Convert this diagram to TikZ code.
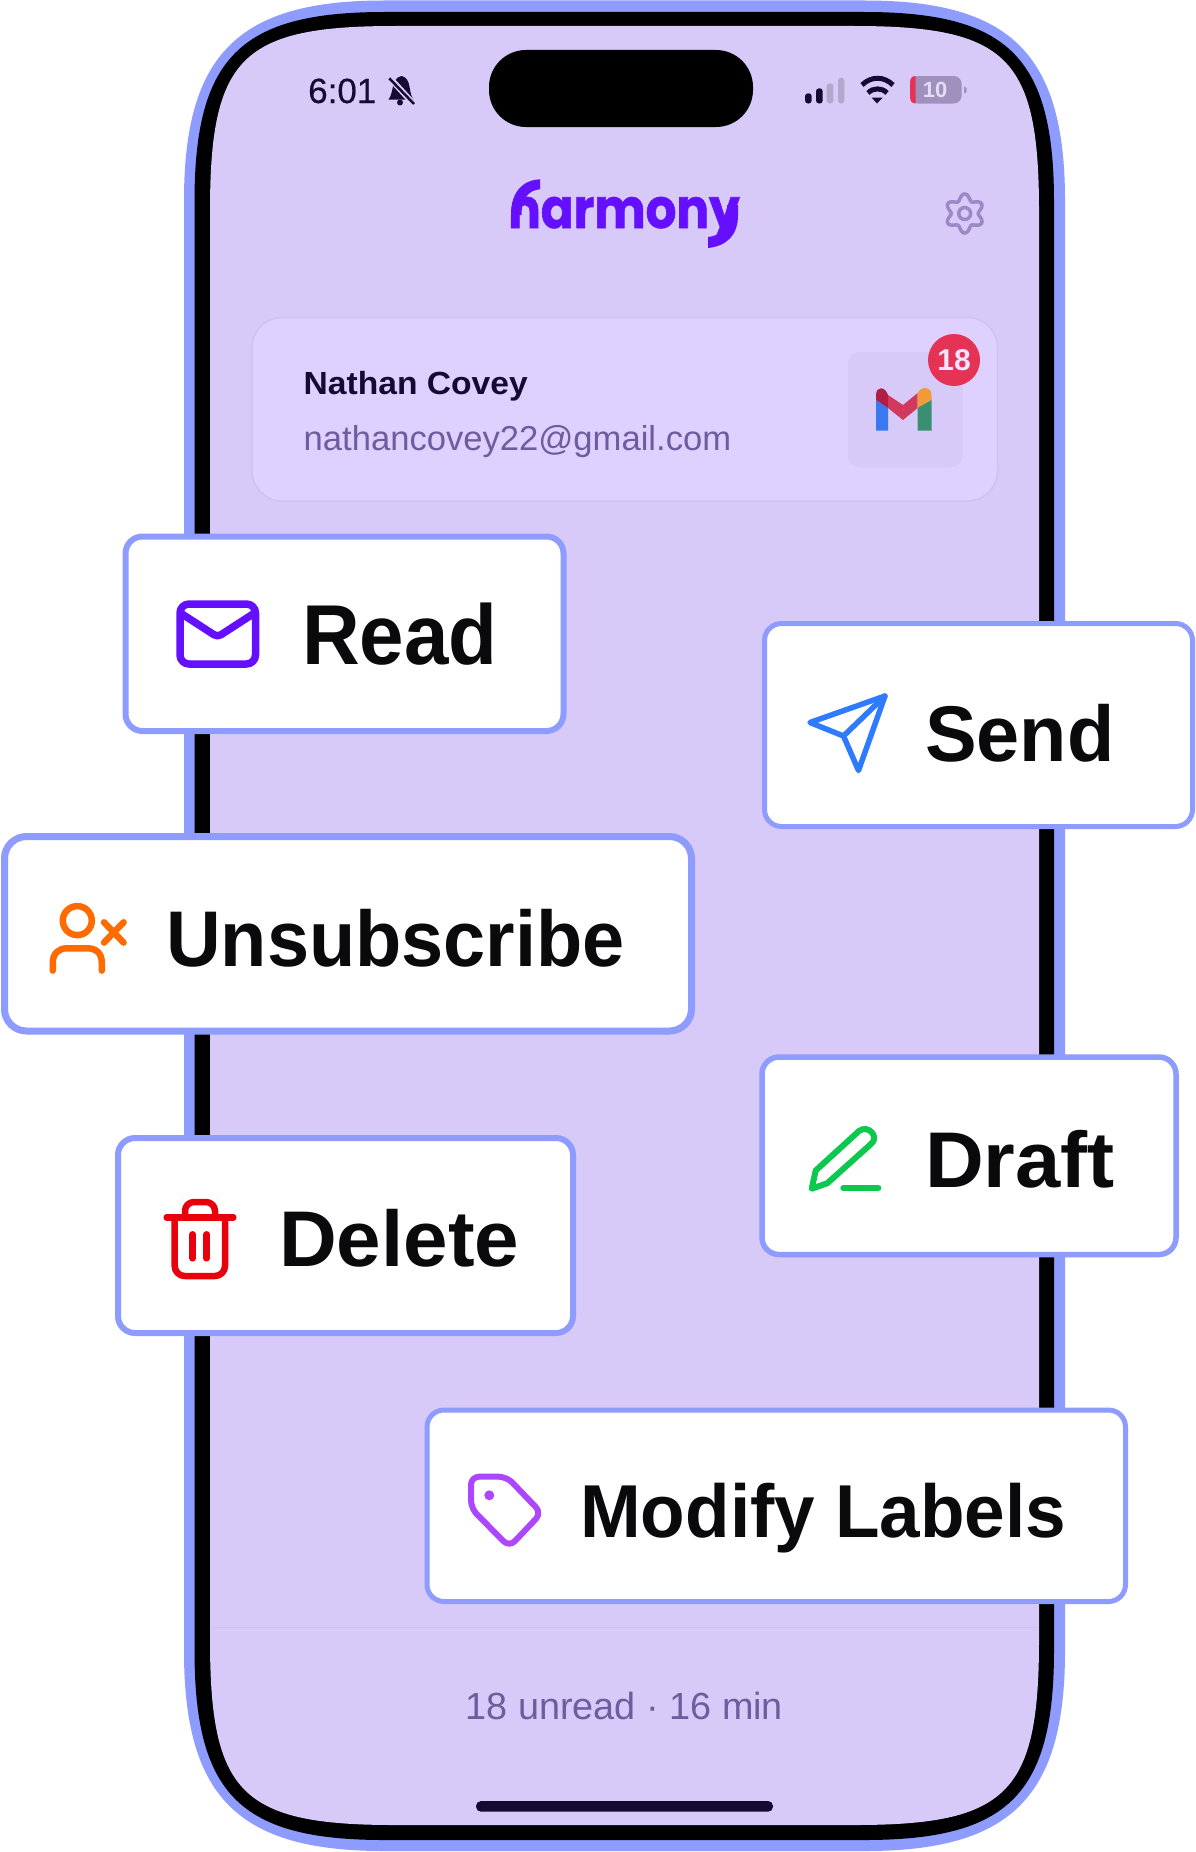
\documentclass[tikz,border=0pt]{standalone}
\usepackage{fontspec}
\setmainfont{Liberation Sans}
\newfontfamily\logofont[BoldFeatures={FakeBold=1.2}]{Poppins}
\newfontfamily\statusfont[FakeBold=0.5]{Liberation Sans}
\definecolor{phoneblue}{HTML}{8E9BFF}
\definecolor{screenlilac}{HTML}{D8CAF8}
\definecolor{panellilac}{HTML}{DED0FF}
\definecolor{panelline}{HTML}{D0C1F0}
\definecolor{ink}{HTML}{0A0A0C}
\definecolor{statusink}{HTML}{160A33}
\definecolor{mutedpurple}{HTML}{6D5C9E}
\definecolor{faintpurple}{HTML}{B3A7CC}
\definecolor{batterygrey}{HTML}{9F90BE}
\definecolor{batterytext}{HTML}{E4DCF5}
\definecolor{logopurple}{HTML}{6410FF}
\definecolor{gearpurple}{HTML}{9C88C4}
\definecolor{badgered}{HTML}{E43355}
\definecolor{badgetext}{HTML}{F0E4FF}
\definecolor{mailblue}{HTML}{3A78F2}
\definecolor{maildark}{HTML}{B01E48}
\definecolor{mailred}{HTML}{D13A5C}
\definecolor{mailorange}{HTML}{F09B3A}
\definecolor{mailgreen}{HTML}{3A8F70}
\definecolor{sendblue}{HTML}{2F7BFF}
\definecolor{unsuborange}{HTML}{FF6B00}
\definecolor{draftgreen}{HTML}{0CC84E}
\definecolor{deletered}{HTML}{E8000D}
\definecolor{tagviolet}{HTML}{AC46FF}
\newcommand{\squircle}[6]{(#1,#2+#5) .. controls (#1,#2+#6*#5) and (#1+#6*#5,#2) .. (#1+#5,#2) -- (#3-#5,#2) .. controls (#3-#6*#5,#2) and (#3,#2+#6*#5) .. (#3,#2+#5) -- (#3,#4-#5) .. controls (#3,#4-#6*#5) and (#3-#6*#5,#4) .. (#3-#5,#4) -- (#1+#5,#4) .. controls (#1+#6*#5,#4) and (#1,#4-#6*#5) .. (#1,#4-#5) -- cycle}
\begin{document}
\begin{tikzpicture}[x=1pt,y=-1pt,
        cardbox/.style={draw=phoneblue,fill=white,line width=6,rounded corners=17},
        cardlabel/.style={anchor=base west,inner sep=0,text=ink,font=\fontsize{79}{90}\selectfont\bfseries},
        smalllabel/.style={anchor=base west,inner sep=0},
        iconline/.style={line width=6.5,line cap=round,line join=round}]
        \path[use as bounding box,fill=white] (0,0) rectangle (1195,1852);

        \fill[phoneblue] \squircle{184}{0.5}{1065}{1851}{200}{0.27};
        \fill[black] \squircle{194.5}{12}{1054}{1840}{190}{0.24};
        \fill[screenlilac] \squircle{210}{26}{1039}{1825}{185}{0.17};
        \fill[black,rounded corners=37] (489,50) rectangle (753,127);

        \node[smalllabel,text=statusink,font=\fontsize{35}{40}\statusfont\selectfont] (clock) at (308,103) {6:01};
        \fill[statusink] (388.5,99.5) .. controls (394,93) and (391,78) .. (401.5,76) .. controls (412,78) and (408,93) .. (413.5,99.5) -- cycle;
        \fill[statusink] (400,102.5) circle (3);
        \draw[screenlilac,line width=6] (388,76) -- (415.5,106);
        \draw[statusink,line width=2.5] (389.3,78.3) -- (414,104);

        \fill[statusink,rounded corners=3] (805,93.3) rectangle (811.7,103.5);
        \fill[statusink,rounded corners=3] (816,88.3) rectangle (822.7,103.5);
        \fill[faintpurple,rounded corners=3] (826.7,83.3) rectangle (833.3,103.5);
        \fill[faintpurple,rounded corners=3] (838,77.7) rectangle (844.3,103.5);
        \draw[statusink,line width=5] (862,85) .. controls (871,76) and (884,76) .. (893,85);
        \draw[statusink,line width=5] (868,93) .. controls (873,87.5) and (882,87.5) .. (887,93);
        \fill[statusink] (871.7,97.7) -- (882.7,97.7) -- (877,103.5) -- cycle;
        \fill[batterygrey,rounded corners=8] (910,76) rectangle (961.7,103.5);
        \fill[badgered] (915.7,76) -- (915.7,103.5) .. controls (912,103.5) and (910,101) .. (910,97) -- (910,83) .. controls (910,78) and (912,76) .. (915.7,76);
        \fill[batterygrey] (964,86.5) -- (966.7,88) -- (966.7,92) -- (964,93.5) -- cycle;
        \node[text=batterytext,font=\fontsize{22}{26}\selectfont\bfseries,inner sep=0] (batterylevel) at (935,90) {10};

        \node[smalllabel,text=logopurple,xscale=.88,font=\fontsize{55}{60}\logofont\bfseries\selectfont] (logo) at (508,228) {harmony};
        \fill[screenlilac] (503,172) -- (540,172) -- (540,179.3) .. controls (522,180) and (511,193) .. (511,215) -- (503,215) -- cycle;
        \fill[logopurple] (511,215) .. controls (511,193) and (522,180) .. (540,179.3) -- (540,189.3) .. controls (529,190) and (521.5,198) .. (521.5,215) -- cycle;
        \fill[logopurple] (727,205) -- (738,205) -- (738,215) .. controls (738,235) and (727,246) .. (708,248) -- (708,237) .. controls (720,236) and (727,228) .. (727,215) -- cycle;
        \draw[gearpurple,line width=3.5,shift={(964.7,213.5)}] plot[domain=0:360,samples=145,smooth] (\x:{16.5-3*cos(6*\x)}) -- cycle;
        \draw[gearpurple,line width=3.5] (964.7,213.5) circle (6);

        \draw[draw=panelline,fill=panellilac,line width=1.5,rounded corners=30] (252,317.5) rectangle (997.5,501);
        \node[smalllabel,text=statusink,xscale=1.05,font=\fontsize{32}{38}\selectfont\bfseries] (username) at (303.5,394.5) {Nathan Covey};
        \node[smalllabel,text=mutedpurple,font=\fontsize{34.6}{40}\selectfont] (useremail) at (303.5,450) {nathancovey22@gmail.com};
        \fill[screenlilac,rounded corners=12] (848,352) rectangle (962.5,467.5);

        \fill[mailblue] (876,400) -- (888,408) -- (888,430.7) -- (876,430.7) -- cycle;
        \fill[maildark] (876,400) -- (876,395) .. controls (876,386) and (885,386) .. (888,395) -- (888,408) -- cycle;
        \fill[mailred] (888,395) -- (903,405) -- (917.6,393) -- (917.6,408) -- (903,420) -- (888,408) -- cycle;
        \fill[mailorange] (917.6,393) .. controls (921,386) and (931.5,386) .. (931.5,395) -- (931.5,400) -- (917.6,408) -- cycle;
        \fill[mailgreen] (931.5,400) -- (931.5,430.7) -- (917.6,430.7) -- (917.6,408) -- cycle;
        \node[circle,fill=badgered,minimum size=52,inner sep=0,text=badgetext,font=\fontsize{30}{34}\selectfont\bfseries] (unreadbadge) at (954,360) {18};

        \draw[panelline,line width=1.5] (210,1627.7) -- (1039,1627.7);
        \node[smalllabel,text=mutedpurple,font=\fontsize{37.8}{44}\selectfont] (footer) at (465.5,1719.3) {18 unread · 16 min};
        \fill[statusink,rounded corners=5] (476,1801) rectangle (773,1811.7);

        \draw[cardbox] (125.5,536.5) rectangle (563.5,731);
        \draw[iconline,line width=7.5,draw=logopurple,rounded corners=9] (180,604) rectangle (255.5,664);
        \draw[iconline,line width=7.5,draw=logopurple,rounded corners=4] (182,614) -- (217.5,637) -- (253,614);
        \node[cardlabel,xscale=.94,font=\fontsize{85}{90}\selectfont\bfseries] (read) at (302,664) {Read};

        \draw[cardbox,line width=5] (764.5,623.5) rectangle (1192.5,826.5);
        \draw[iconline,line width=5.5,draw=sendblue] (885,696) -- (810,722.5) -- (843.5,736) -- (858.5,770.5) -- cycle;
        \draw[iconline,line width=5.5,draw=sendblue] (885,696) -- (843.5,736);
        \node[cardlabel,xscale=.98] (send) at (925,761.5) {Send};

        \draw[cardbox,line width=7,rounded corners=22] (4.5,836.5) rectangle (691.5,1031);
        \draw[iconline,draw=unsuborange] (77.3,920.6) circle (14.5);
        \draw[iconline,draw=unsuborange] (52.8,970.6) -- (52.8,962.9) .. controls (52.8,953) and (59,948.3) .. (67,948.3) -- (87.3,948.3) .. controls (96,948.3) and (101.8,953) .. (101.8,962.9) -- (101.8,970.6);
        \draw[iconline,draw=unsuborange] (104,922.3) -- (123.6,942.6) (123.6,922.3) -- (104,942.6);
        \node[cardlabel,xscale=.958] (unsubscribe) at (166,966) {Unsubscribe};

        \draw[cardbox,line width=5.5] (762,1057) rectangle (1176,1254.5);
        \draw[iconline,line width=6,draw=draftgreen] (811.7,1188.7) -- (815.7,1170.5) -- (859,1131) .. controls (868,1124) and (880,1137) .. (871,1144) -- (827.3,1183.2) -- cycle;
        \draw[iconline,line width=6,draw=draftgreen] (843.3,1188.3) -- (878.3,1188.3);
        \node[cardlabel,xscale=1.03] (draft) at (925,1187.4) {Draft};

        \draw[cardbox] (118,1138) rectangle (573,1333);
        \draw[iconline,draw=deletered] (166.7,1217.3) -- (233.3,1217.3);
        \draw[iconline,draw=deletered,rounded corners=9] (185,1217) -- (185,1202) -- (215,1202) -- (215,1217);
        \draw[iconline,draw=deletered,rounded corners=10] (174.7,1217.3) -- (174.7,1276) -- (225,1276) -- (225,1217.3);
        \draw[iconline,draw=deletered] (192.7,1234.3) -- (192.7,1258.3) (206.7,1234.3) -- (206.7,1258.3);
        \node[cardlabel,xscale=1.012] (delete) at (279,1266.7) {Delete};

        \draw[cardbox,line width=5] (427,1410) rectangle (1125.5,1601.5);
        \draw[iconline,line width=6,draw=tagviolet,rounded corners=8] (471,1476.7) -- (506.7,1476.7) -- (541.5,1513) -- (509.3,1547) -- (471,1508.3) -- cycle;
        \fill[tagviolet] (489.3,1495.3) circle (5);
        \node[cardlabel,xscale=.972,font=\fontsize{75}{90}\selectfont\bfseries] (modifylabels) at (580,1537.5) {Modify Labels};

    \end{tikzpicture}
\end{document}
